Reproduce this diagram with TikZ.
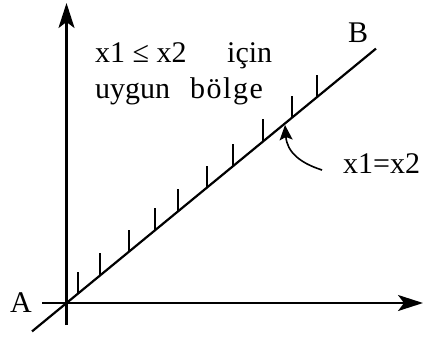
\documentclass[tikz,border=0pt]{standalone}
\usepackage{fontspec}
\setmainfont{Liberation Serif}
\newfontfamily\spacedserif[LetterSpace=5]{Liberation Serif}
\usetikzlibrary{arrows.meta}
\begin{document}
\begin{tikzpicture}[x=1pt,y=-1pt,
  axis/.style={line width=2.2pt,-{Stealth[length=25pt,width=16pt,inset=6pt]}},
  diag/.style={line width=2.2pt},
  tick/.style={line width=2pt},
  pointer/.style={line width=1.6pt,-{Stealth[length=15pt,width=13pt,inset=3pt]}},
  lbl/.style={inner sep=0pt,font=\fontsize{30}{34}\selectfont}]
\useasboundingbox (0,0) rectangle (430,340);
% axes
\coordinate (O) at (66.5,303);
\coordinate (ybot) at (66.5,325);
\coordinate (ytop) at (66.5,3);
\coordinate (xleft) at (42,303);
\coordinate (xright) at (423,303);
\draw[axis] (ybot) -- (ytop);
\draw[axis] (xleft) -- (xright);
% diagonal x1=x2
\coordinate (dstart) at (32,331.4);
\coordinate (dend) at (376,48.6);
\draw[diag] (dstart) -- (dend);
% hatch ticks
\foreach \x in {77.7,100,129,155,178,207,233,263,292,317}{
  \draw[tick] (\x,{303-0.822*(\x-66.5)}) -- ++(0,-22);
}
% labels
\node[lbl,anchor=base east] (A) at (32,312) {A};
\node[lbl,anchor=base west] (B) at (348,42) {B};
\node[lbl,anchor=base west] (cond) at (95,62) {\makebox[132pt][l]{x1 ≤ x2}için};
\node[lbl,anchor=base west] (region) at (95,98) {\makebox[95pt][l]{uygun}{\spacedserif bölge}};
\node[lbl,anchor=base west] (eq) at (343,173) {x1=x2};
% pointer
\coordinate (ptail) at (322,170);
\coordinate (phead) at (285,125);
\draw[pointer] (ptail) .. controls (300,163) and (287,152) .. (phead);
\end{tikzpicture}
\end{document}
